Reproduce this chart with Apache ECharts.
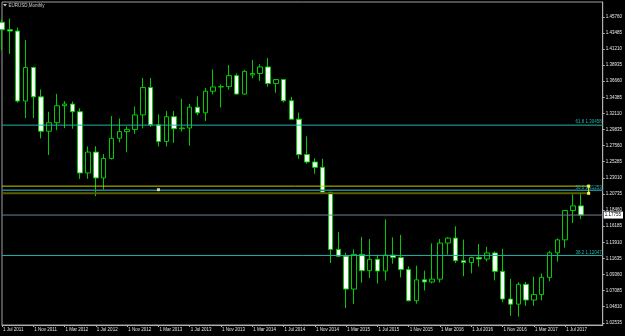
<!DOCTYPE html>
<html><head><meta charset="utf-8">
<script src="https://cdn.jsdelivr.net/npm/echarts@6/dist/echarts.min.js"></script>
<style>html,body{margin:0;padding:0;background:#000;}#c{width:625px;height:336px;}</style>
</head><body><div id="c"></div>
<script>
const months = ['2011-07','2011-08','2011-09','2011-10','2011-11','2011-12',
'2012-01','2012-02','2012-03','2012-04','2012-05','2012-06','2012-07','2012-08','2012-09','2012-10','2012-11','2012-12',
'2013-01','2013-02','2013-03','2013-04','2013-05','2013-06','2013-07','2013-08','2013-09','2013-10','2013-11','2013-12',
'2014-01','2014-02','2014-03','2014-04','2014-05','2014-06','2014-07','2014-08','2014-09','2014-10','2014-11','2014-12',
'2015-01','2015-02','2015-03','2015-04','2015-05','2015-06','2015-07','2015-08','2015-09','2015-10','2015-11','2015-12',
'2016-01','2016-02','2016-03','2016-04','2016-05','2016-06','2016-07','2016-08','2016-09','2016-10','2016-11','2016-12',
'2017-01','2017-02','2017-03','2017-04','2017-05','2017-06','2017-07','2017-08','2017-09'];
const opens = [1.4500,1.4393,1.4375,1.3386,1.3860,1.3445,
1.2960,1.3080,1.3320,1.3343,1.3235,1.2370,1.2665,1.2300,1.2575,1.2860,1.2955,1.2985,
1.3190,1.3578,1.3050,1.2815,1.3165,1.2995,1.3005,1.3300,1.3220,1.3525,1.3585,1.3590,
1.3745,1.3485,1.3755,1.3775,1.3868,1.3633,1.3690,1.3390,1.3130,1.2630,1.2525,1.2450,
1.2098,1.1290,1.1195,1.0730,1.1220,1.0990,1.1150,1.0985,1.1210,1.1175,1.1005,1.0565,
1.0860,1.0830,1.0870,1.1380,1.1450,1.1130,1.1105,1.1175,1.1155,1.1240,1.0980,1.0589,
1.0517,1.0797,1.0575,1.0652,1.0895,1.1242,1.1425,1.1840,1.1905];
const highs = [1.4540,1.4549,1.4424,1.4248,1.3875,1.3550,
1.3234,1.3487,1.3385,1.3380,1.3283,1.2745,1.2748,1.2637,1.3173,1.3140,1.3027,1.3308,
1.3711,1.3711,1.3199,1.3243,1.3243,1.3416,1.3345,1.3452,1.3569,1.3832,1.3620,1.3893,
1.3775,1.3825,1.3967,1.3905,1.3993,1.3677,1.3700,1.3445,1.3222,1.2887,1.2577,1.2570,
1.2100,1.1534,1.1245,1.1290,1.1467,1.1436,1.1215,1.1714,1.1460,1.1495,1.1050,1.1060,
1.0990,1.1376,1.1437,1.1464,1.1616,1.1428,1.1187,1.1366,1.1327,1.1262,1.1300,1.0874,
1.0828,1.0830,1.0906,1.0950,1.1268,1.1445,1.1846,1.2070,1.2092];
const lows = [1.4106,1.4051,1.3362,1.3145,1.3145,1.2858,
1.2624,1.2975,1.3003,1.2995,1.2286,1.2288,1.2042,1.2133,1.2560,1.2802,1.2662,1.2923,
1.3000,1.3020,1.2745,1.2745,1.2796,1.2955,1.2755,1.3185,1.3105,1.3480,1.3294,1.3547,
1.3478,1.3475,1.3705,1.3672,1.3588,1.3503,1.3366,1.3128,1.2571,1.2500,1.2358,1.2098,
1.1098,1.1180,1.0462,1.0520,1.0819,1.0886,1.0808,1.0850,1.1087,1.0896,1.0557,1.0524,
1.0710,1.0810,1.0822,1.1217,1.1098,1.0912,1.0952,1.1045,1.1122,1.0852,1.0547,1.0352,
1.0340,1.0493,1.0493,1.0569,1.0839,1.1118,1.1313,1.1662,1.1717];
const closes = [1.4393,1.4375,1.3386,1.3860,1.3445,1.2960,
1.3080,1.3320,1.3343,1.3235,1.2370,1.2665,1.2300,1.2575,1.2860,1.2955,1.2985,1.3190,
1.3578,1.3050,1.2815,1.3165,1.2995,1.3005,1.3300,1.3220,1.3525,1.3585,1.3590,1.3745,
1.3485,1.3805,1.3775,1.3868,1.3633,1.3690,1.3390,1.3130,1.2630,1.2525,1.2450,1.2098,
1.1290,1.1195,1.0730,1.1220,1.0990,1.1150,1.0985,1.1210,1.1175,1.1005,1.0565,1.0860,
1.0830,1.0870,1.1380,1.1450,1.1130,1.1105,1.1175,1.1155,1.1240,1.0980,1.0589,1.0517,
1.0797,1.0575,1.0652,1.0895,1.1242,1.1425,1.1840,1.1905,1.17755];

const xTickKeys = ['2011-07','2011-11','2012-03','2012-07','2012-11','2013-03','2013-07','2013-11','2014-03','2014-07','2014-11','2015-03','2015-07','2015-11','2016-03','2016-07','2016-11','2017-03','2017-07'];
const xTickLabels = ['1 Jul 2011','1 Nov 2011','1 Mar 2012','1 Jul 2012','1 Nov 2012','1 Mar 2013','1 Jul 2013','1 Nov 2013','1 Mar 2014','1 Jul 2014','1 Nov 2014','1 Mar 2015','1 Jul 2015','1 Nov 2015','1 Mar 2016','1 Jul 2016','1 Nov 2016','1 Mar 2017','1 Jul 2017'];
const yTickLabels = ['1.45760','1.43485','1.41210','1.38935','1.36660','1.34385','1.32110','1.29835','1.27560','1.25285','1.23010','1.20735','1.18460','1.16185','1.13910','1.11635','1.09360','1.07085','1.04810','1.02535'];

const fibNames = ['61.8','50.0','38.2'];
const fibPrices = [1.30458, 1.21253, 1.12047];
const bidPrice = 1.17755;
const trendTop = 1.2184;
const trendBottom = 1.2083;
const anchorIndex = 75;       // slot after the last candle (Oct 2017)
const markerPoint = [20, 1.2134];

const FONT = 'Liberation Sans';
const X_MIN = 0, X_MAX = 76.8;
const xTickValues = xTickKeys.map(k => months.indexOf(k));
const yTickValues = yTickLabels.map(parseFloat);
const candleData = months.map((m, i) => [i, opens[i], closes[i], lows[i], highs[i]]);

function hLine(p, color, width, z, xEnd) {
  return {type: 'line', data: [[X_MIN, p], [xEnd == null ? X_MAX : xEnd, p]], symbol: 'none', silent: true,
          lineStyle: {color: color, width: width, type: 'solid'}, itemStyle: {color: color}, z: z};
}
const fibColors = ['#20b2aa', '#23868f', '#20b2aa'];

const series = [
  {
    type: 'candlestick', data: candleData, encode: {x: 0, y: [1, 2, 3, 4]},
    barWidth: 5, clip: true, silent: true, z: 2,
    itemStyle: {color: '#000', color0: '#fff', borderColor: '#00cc00', borderColor0: '#00cc00', borderWidth: 1}
  },
  hLine(trendTop, '#c8c800', 1, 3, anchorIndex),
  hLine(trendBottom, '#5e5e00', 2, 3, anchorIndex),
  hLine(bidPrice, '#708090', 1, 3)
];
fibPrices.forEach((p, i) => series.push(hLine(p, fibColors[i], i === 1 ? 1.5 : 1, 4)));
series.push({
  type: 'line', data: [[anchorIndex, trendTop], [anchorIndex, trendBottom]], symbol: 'rect', symbolSize: 3,
  showSymbol: true, silent: true,
  lineStyle: {color: '#e0e040', width: 1}, itemStyle: {color: '#ffff50'}, z: 5
});
series.push({
  type: 'scatter', data: [markerPoint], symbol: 'rect', symbolSize: 3, silent: true,
  itemStyle: {color: '#ffffc8'}, z: 5
});

const chart = echarts.init(document.getElementById('c'), null, {renderer: 'canvas'});
chart.setOption({
  animation: false,
  backgroundColor: '#000',
  grid: {left: 2, right: 21, top: 2, bottom: 11, show: true, borderColor: '#a0a0a0', borderWidth: 1, backgroundColor: '#000'},
  xAxis: {
    type: 'value', min: X_MIN, max: X_MAX,
    axisLine: {show: true, onZero: false, lineStyle: {color: '#b0b0b0'}},
    axisTick: {show: true, length: 2, customValues: xTickValues, lineStyle: {color: '#b0b0b0'}},
    axisLabel: {show: true, customValues: xTickValues, align: 'left', margin: 2.5, fontSize: 4.5, fontFamily: FONT,
      color: '#e0e0e0', padding: [0, 0, 0, 1], showMinLabel: true, showMaxLabel: true,
      formatter: v => xTickLabels[xTickValues.indexOf(Math.round(v))] || ''},
    splitLine: {show: false}
  },
  yAxis: {
    type: 'value', position: 'right', min: 1.02224, max: 1.47851, scale: true,
    axisLine: {show: true, onZero: false, lineStyle: {color: '#b0b0b0'}},
    axisTick: {show: true, length: 2, customValues: yTickValues, lineStyle: {color: '#b0b0b0'}},
    axisLabel: {show: true, customValues: yTickValues, margin: 3, fontSize: 4.5, fontFamily: FONT, color: '#e8e8e8',
      formatter: v => v.toFixed(5)},
    splitLine: {show: false}
  },
  series: series
});

// labels placed through the chart's own scales
const xRight = chart.convertToPixel({xAxisIndex: 0}, X_MAX);
const graphics = [
  {type: 'polygon', shape: {points: [[3, 4], [7, 4], [5, 6.5]]}, style: {fill: '#c8c8c8'}, silent: true},
  {type: 'text', x: 8.5, y: 5.3, style: {text: 'EURUSD,Monthly', fontSize: 4.5, fontFamily: FONT, fill: '#d0d0d0',
    verticalAlign: 'middle'}, silent: true}
];
fibPrices.forEach((p, i) => {
  const y = chart.convertToPixel({yAxisIndex: 0}, p);
  graphics.push({type: 'text', x: xRight - 1, y: y - 0.5, silent: true, z: 10,
    style: {text: fibNames[i] + ' ' + p.toFixed(5), fontSize: 4.5, fontFamily: FONT, fill: '#20b2aa',
            align: 'right', verticalAlign: 'bottom'}});
});
const yBid = chart.convertToPixel({yAxisIndex: 0}, bidPrice);
graphics.push({type: 'text', x: xRight + 1, y: yBid, silent: true, z: 10,
  style: {text: bidPrice.toFixed(5), fontSize: 4.5, fontFamily: FONT, fill: '#000', backgroundColor: '#fff',
          padding: [1, 2, 1, 1], align: 'left', verticalAlign: 'middle'}});
chart.setOption({graphic: graphics});
</script></body></html>
